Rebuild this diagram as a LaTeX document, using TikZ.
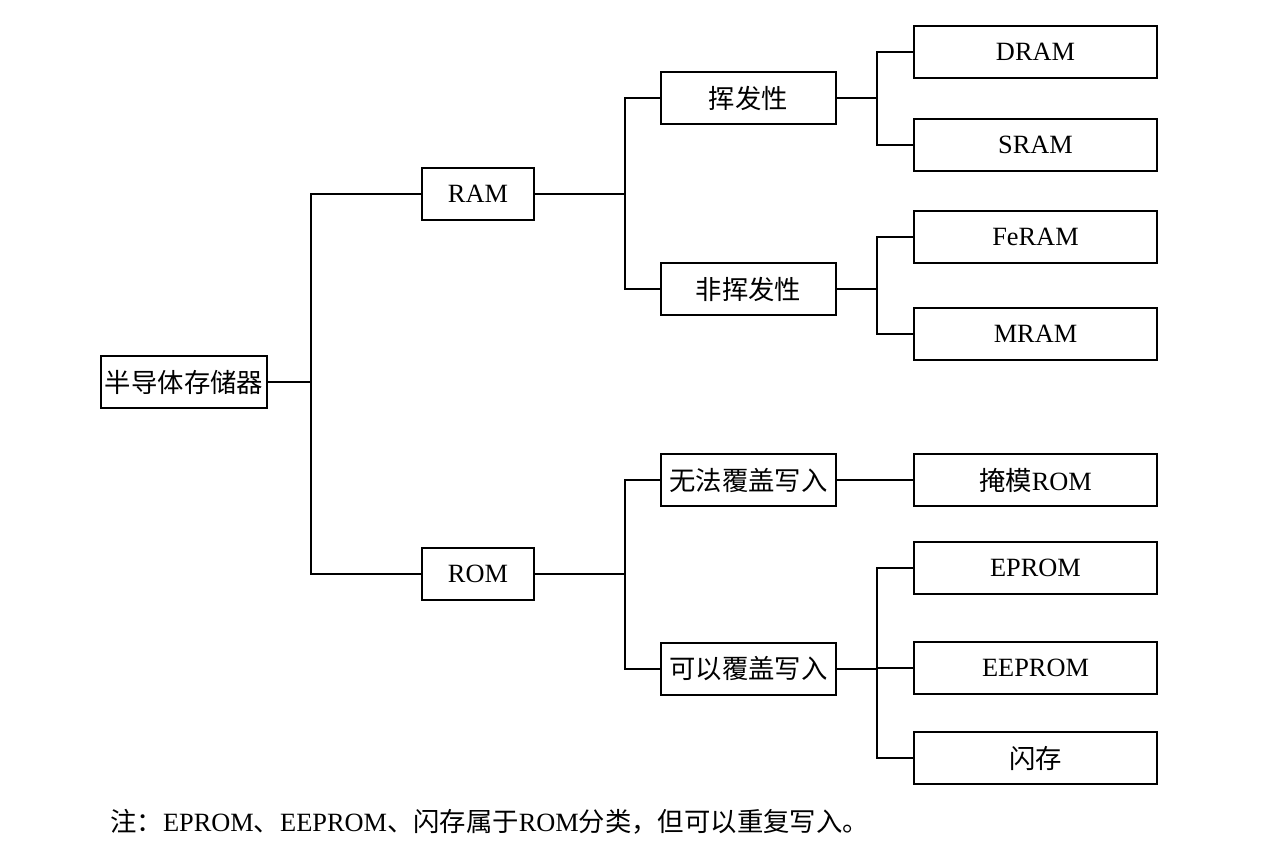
\documentclass[tikz,border=0pt]{standalone}
\usepackage{fontspec}
\setmainfont{Liberation Serif}
\newfontfamily\cjk{Noto Sans CJK SC}
\usetikzlibrary{positioning}

\tikzset{%
        every box/.style={
            draw,
            line width=1pt,
            minimum height=1.04cm,
            inner sep=0pt,
            font=\fontsize{15}{18}\selectfont
        },
        box root/.style={minimum width=3.32cm},
        box top/.style={minimum width=2.24cm},
        box mid/.style={minimum width=3.5cm},
        box leaf/.style={minimum width=4.86cm},
        link/.style={line width=1pt}
    }

\begin{document}
\begin{tikzpicture}[x=0.02cm, y=-0.02cm]
        \useasboundingbox (0,0) rectangle (1264,858);

        % tree levels
        \node [every box, box root] (root) at (184,382) {{\cjk 半导体存储器}};
        \node [every box, box top] (ram) at (478,194) {RAM};
        \node [every box, box top] (rom) at (478,574) {ROM};

        \foreach \n/\y/\l in {vol/98/挥发性, nvol/289/非挥发性, nw/480/无法覆盖写入, rw/669/可以覆盖写入}
        \node [every box, box mid] (\n) at (748.5,\y) {{\cjk \l}};

        \foreach \n/\y/\l in {dram/52/DRAM, sram/145/SRAM, feram/237/FeRAM, mram/334/MRAM,
                              mask/480/{{\cjk 掩模}ROM}, epr/568/EPROM, eepr/668/EEPROM, flash/758/{{\cjk 闪存}}}
        \node [every box, box leaf] (\n) at (1035.5,\y) {\l};

        % junctions
        \coordinate (j1) at (311,0);
        \coordinate (j2) at (625,0);
        \coordinate (j3) at (877,0);

        \foreach \c in {ram,rom}
            \draw [link] (root.east) -- (root.east -| j1) |- (\c.west);

        \foreach \c in {vol,nvol}
            \draw [link] (ram.east) -- (ram.east -| j2) |- (\c.west);

        \foreach \c in {nw,rw}
            \draw [link] (rom.east) -- (rom.east -| j2) |- (\c.west);

        \foreach \c in {dram,sram}
            \draw [link] (vol.east) -- (vol.east -| j3) |- (\c.west);

        \foreach \c in {feram,mram}
            \draw [link] (nvol.east) -- (nvol.east -| j3) |- (\c.west);

        \draw [link] (nw.east) -- (mask.west);

        \foreach \c in {epr,eepr,flash}
            \draw [link] (rw.east) -- (rw.east -| j3) |- (\c.west);

        % note
        \node [anchor=west, inner sep=0pt, font=\fontsize{15}{18}\selectfont] (note) at (110,822)
            {{\cjk 注：}EPROM{\cjk 、}EEPROM{\cjk 、闪存属于}ROM{\cjk 分类，但可以重复写入。}};
\end{tikzpicture}
\end{document}
